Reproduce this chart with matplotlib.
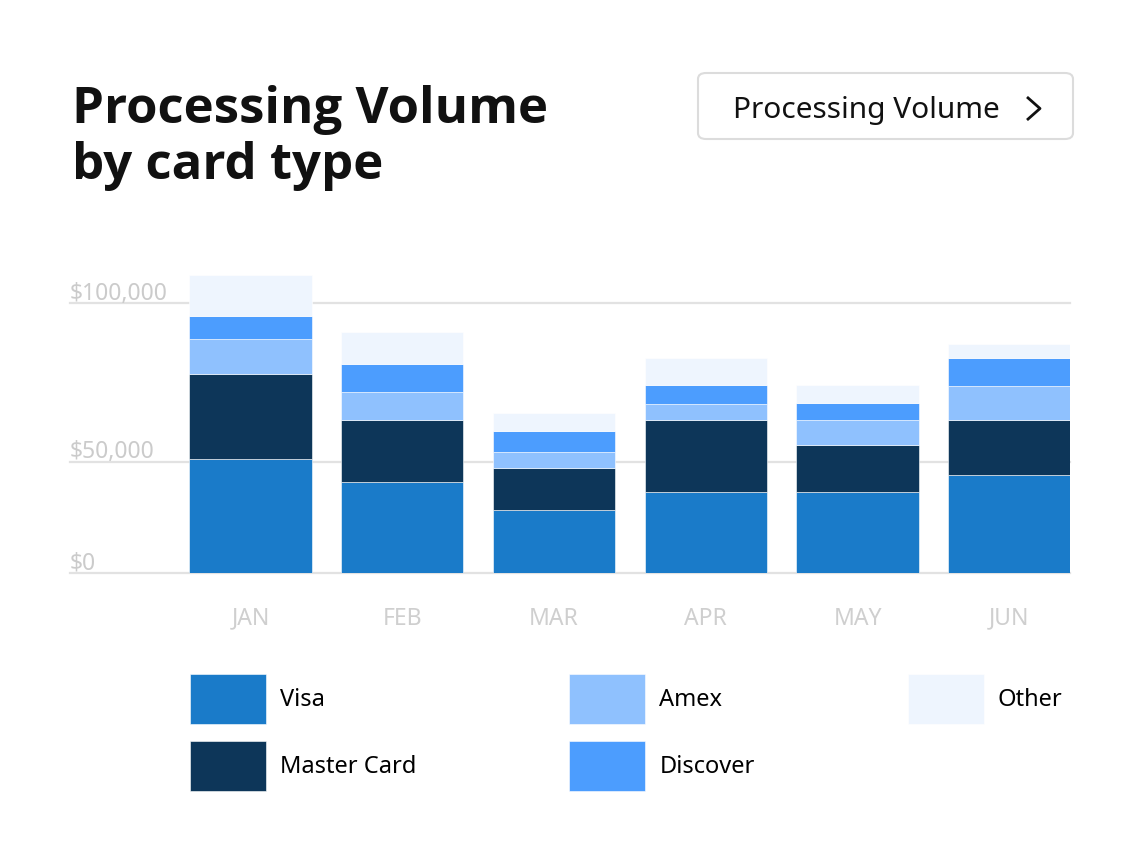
import numpy as np
import matplotlib
matplotlib.use("Agg")
import matplotlib.pyplot as plt
from matplotlib.patches import FancyBboxPatch
from matplotlib.lines import Line2D

plt.rcParams["font.family"] = ["Noto Sans", "DejaVu Sans"]

months = ["JAN", "FEB", "MAR", "APR", "MAY", "JUN"]
visa = [51000, 41000, 28400, 36600, 36600, 43900]
master_card = [26800, 22200, 18700, 26600, 18600, 19300]
amex = [10800, 8700, 5900, 5100, 8000, 10800]
discover = [7400, 8900, 6600, 5800, 5300, 8800]
other = [12900, 10100, 5700, 8700, 5600, 4400]

series_names = ["Visa", "Master Card", "Amex", "Discover", "Other"]
series_colors = ["#1a7bc9", "#0d3659", "#8fc1fe", "#4c9dfe", "#eef5fe"]
y_ticks = [0, 50000, 100000]
y_tick_labels = ["$0", "$50,000", "$100,000"]

W, H = 1145, 863


def fx(x):
    return x / W


def fy(y):
    return 1 - y / H


# the reference's value axis is not evenly spaced: 0-50k is squeezed
scale_vals = np.array([0, 50000, 100000, 300000])
scale_pos = np.array([0.0, 111.5, 270.0, 904.0])


def fwd(v):
    return np.interp(v, scale_vals, scale_pos)


def inv(p):
    return np.interp(p, scale_pos, scale_vals)


fig = plt.figure(figsize=(W / 100, H / 100), dpi=100)
ax = fig.add_axes([fx(70), fy(573.3), fx(1070) - fx(70), (573.3 - 260) / H])
ax.set_yscale("function", functions=(fwd, inv))

x = np.arange(len(months))
bottom = np.zeros(len(months))
for name, vals, col in zip(series_names,
                           [visa, master_card, amex, discover, other],
                           series_colors):
    ax.bar(x, vals, 0.805, bottom=bottom, color=col, label=name,
           edgecolor="white", linewidth=0.4, zorder=3)
    bottom += np.array(vals)

for v, lab in zip(y_ticks, y_tick_labels):
    ax.axhline(v, color="#e2e2e2", linewidth=1.6, zorder=1, clip_on=False)
    ax.annotate(lab, xy=(0, v), xycoords=("axes fraction", "data"),
                xytext=(0, 2.5), textcoords="offset points",
                va="baseline", ha="left", fontsize=16.5, color="#cbcbcb")

ax.set_xlim(-1.19, 5.4)
ax.set_ylim(0, inv(313.3))
ax.set_xticks(x)
ax.set_xticklabels(months, fontsize=16.5, color="#cfcfcf")
ax.tick_params(axis="x", length=0, pad=24)
ax.set_yticks([])
for s in ax.spines.values():
    s.set_visible(False)

# title
title_font = ["Open Sans", "Noto Sans", "DejaVu Sans"]
fig.text(fx(72), fy(123), "Processing Volume", fontsize=36.6, fontweight="bold",
         family=title_font, color="#111111", va="baseline", ha="left")
fig.text(fx(72), fy(179), "by card type", fontsize=36.6, fontweight="bold",
         family=title_font, color="#111111", va="baseline", ha="left")

# button
btn = FancyBboxPatch((fx(698), fy(139)), fx(1073) - fx(698), (139 - 73) / H,
                     boxstyle="round,pad=0,rounding_size=0.007",
                     transform=fig.transFigure, facecolor="white",
                     edgecolor="#dcdcdc", linewidth=1.5)
fig.patches.append(btn)
fig.text(fx(733), fy(118), "Processing Volume", fontsize=21.5, color="#111111",
         va="baseline", ha="left")
fig.lines.append(Line2D([fx(1027), fx(1040), fx(1027)],
                        [fy(97), fy(108.5), fy(120)],
                        transform=fig.transFigure, color="#111111",
                        linewidth=2.0, solid_capstyle="butt"))

handles, labels = ax.get_legend_handles_labels()
fig.legend(handles, labels, loc="upper left",
           bbox_to_anchor=(fx(190), fy(674)), ncol=3, frameon=False,
           fontsize=17, handlelength=3.22, handleheight=2.883,
           handletextpad=0.59, columnspacing=6.48, labelspacing=0.72,
           borderpad=0, borderaxespad=0)

fig.savefig("out.png", dpi=100, facecolor="white")
